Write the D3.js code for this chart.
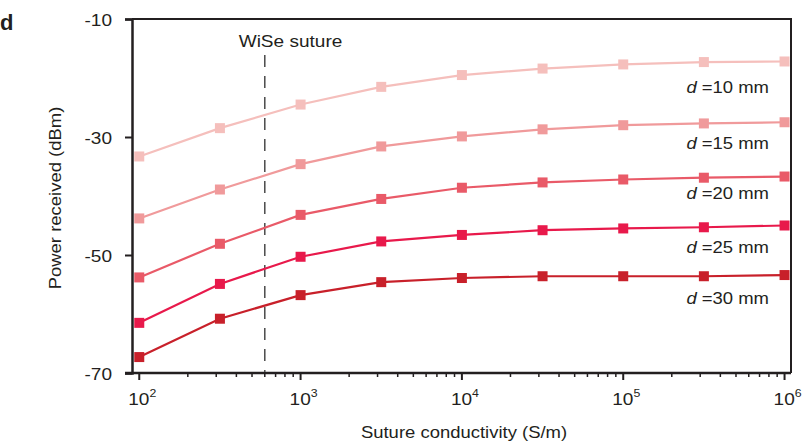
<!DOCTYPE html>
<html>
<head>
<meta charset="utf-8">
<script src="https://cdn.jsdelivr.net/npm/d3@7"></script>
<style>
  html, body { margin: 0; padding: 0; background: #fff; }
  svg text { font-family: "Liberation Sans", Arial, sans-serif; fill: #231f20; }
</style>
</head>
<body>
<svg id="chart" width="804" height="445"></svg>
<script>
// ——— Data ———
const conductivity = [1e2, 10 ** 2.5, 1e3, 10 ** 3.5, 1e4, 10 ** 4.5, 1e5, 10 ** 5.5, 1e6];
const distances = ['10', '15', '20', '25', '30'];
const power_d10 = [-33.3, -28.5, -24.5, -21.5, -19.5, -18.4, -17.7, -17.3, -17.2];
const power_d15 = [-43.8, -38.9, -34.6, -31.6, -29.9, -28.7, -28.0, -27.7, -27.5];
const power_d20 = [-53.8, -48.1, -43.2, -40.5, -38.6, -37.7, -37.2, -36.9, -36.7];
const power_d25 = [-61.5, -54.9, -50.3, -47.7, -46.6, -45.8, -45.5, -45.3, -45.0];
const power_d30 = [-67.3, -60.8, -56.8, -54.6, -53.9, -53.6, -53.6, -53.6, -53.4];
const colors = ['#f5bfbc', '#f09a9b', '#e95a68', '#e8194b', '#c8202a'];
const yTicks = [-10, -30, -50, -70];
const xTicks = [2, 3, 4, 5, 6];
const wiseSuture = 600;

const series = [power_d10, power_d15, power_d20, power_d25, power_d30];

const svg = d3.select('#chart');
const m = { left: 132, top: 19, right: 791, bottom: 373 };
const SX = 1.12; // the source font runs wider than Arial

const x = d3.scaleLog().domain([10 ** 1.955, 10 ** 6.04]).range([m.left, m.right]);
const y = d3.scaleLinear().domain([-70, -10]).range([m.bottom, m.top]);

// text placed in its own group so it can be widened a little
function label(px, py, size, anchor, rot) {
    const g = svg.append('g')
        .attr('transform', `translate(${px},${py})${rot ? ` rotate(${rot})` : ''} scale(${SX},1)`);
    return g.append('text').attr('font-size', size).attr('text-anchor', anchor || 'start');
}

// ——— Frame (top + right) ———
svg.append('path')
    .attr('d', `M${m.left},${m.top}H${m.right}V${m.bottom}`)
    .attr('fill', 'none').attr('stroke', '#231f20').attr('stroke-width', 2);

// ——— Y axis ———
const yAxis = svg.append('g')
    .attr('transform', `translate(${m.left},0)`)
    .call(d3.axisLeft(y).tickValues(yTicks).tickSize(7).tickFormat(''));
yAxis.select('.domain').attr('stroke', '#231f20').attr('stroke-width', 2.5);
yAxis.selectAll('.tick line').attr('stroke', '#231f20').attr('stroke-width', 2);
yTicks.forEach(v => {
    label(112, y(v) + 6.5, 17, 'end').text(String(v));
});

// ——— X axis ———
const minor = [];
for (let e = 2; e < 6; e++) for (let k = 2; k <= 9; k++) minor.push(k * 10 ** e);

const xAxisG = svg.append('g').attr('transform', `translate(0,${m.bottom})`);
xAxisG.append('line')
    .attr('x1', m.left - 7).attr('x2', m.right)
    .attr('stroke', '#231f20').attr('stroke-width', 2.5);
xAxisG.selectAll('line.minor')
    .data(minor).join('line').attr('class', 'minor')
    .attr('x1', d => x(d)).attr('x2', d => x(d))
    .attr('y1', 0).attr('y2', 4)
    .attr('stroke', '#231f20').attr('stroke-width', 1.5);
xAxisG.selectAll('line.major')
    .data(xTicks).join('line').attr('class', 'major')
    .attr('x1', d => x(10 ** d)).attr('x2', d => x(10 ** d))
    .attr('y1', 0).attr('y2', 7)
    .attr('stroke', '#231f20').attr('stroke-width', 2);
xTicks.forEach(e => {
    const t = label(x(10 ** e) + 3, 404.5, 17, 'middle');
    t.append('tspan').text('10');
    t.append('tspan').attr('dy', -8).attr('font-size', 11).text(e);
});

// ——— WiSe suture marker ———
svg.append('line')
    .attr('x1', x(wiseSuture)).attr('x2', x(wiseSuture))
    .attr('y1', 55).attr('y2', m.bottom - 1)
    .attr('stroke', '#4a4a4a').attr('stroke-width', 1.5)
    .attr('stroke-dasharray', '12,9');
label(290.5, 46.5, 17, 'middle').text('WiSe suture');

// ——— Lines + markers ———
const line = d3.line().x((d, i) => x(conductivity[i])).y(d => y(d));

series.forEach((vals, si) => {
    svg.append('path')
        .datum(vals)
        .attr('d', line)
        .attr('fill', 'none')
        .attr('stroke', colors[si])
        .attr('stroke-width', 2.2);
    svg.append('g')
        .selectAll('rect')
        .data(vals)
        .join('rect')
        .attr('x', (d, i) => x(conductivity[i]) - 5)
        .attr('y', d => y(d) - 5)
        .attr('width', 10).attr('height', 10)
        .attr('fill', colors[si]);
});

// ——— Series labels ———
const labelY = [93.3, 149, 199.3, 253, 304];
distances.forEach((dv, i) => {
    const t = label(769, labelY[i], 16.5, 'end');
    t.append('tspan').attr('font-style', 'italic').text('d');
    t.append('tspan').text(` =${dv} mm`);
});

// ——— Axis titles ———
label(61, 198, 16.5, 'middle', -90).text('Power received (dBm)');
label(464, 438, 16.5, 'middle').text('Suture conductivity (S/m)');

// ——— Panel letter ———
svg.append('text')
    .attr('x', 0).attr('y', 30)
    .attr('font-size', 22).attr('font-weight', 'bold')
    .text('d');
</script>
</body>
</html>
